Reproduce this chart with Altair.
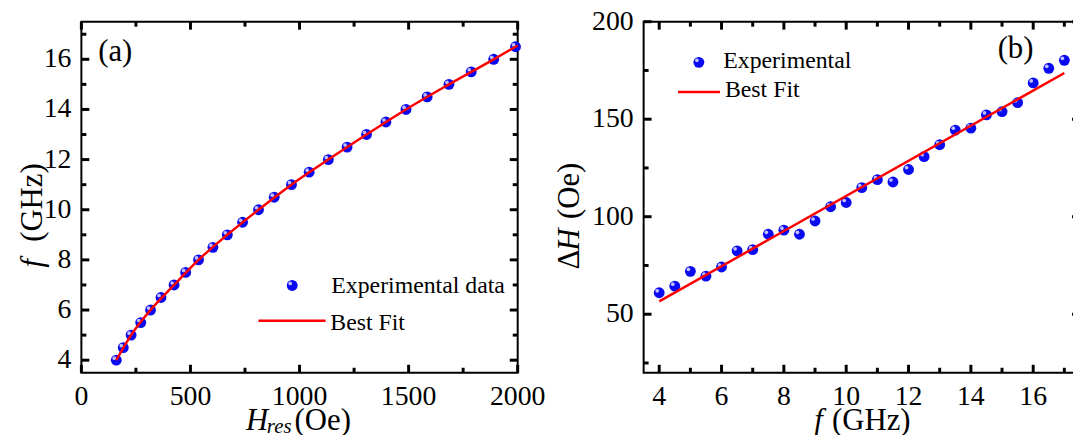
import altair as alt
import pandas as pd

FONT = "Liberation Serif"

# ---------------- Panel (a): f vs H_res ----------------
a_f = [4.0, 4.5, 5.0, 5.5, 6.0, 6.5, 7.0, 7.5, 8.0, 8.5, 9.0, 9.5, 10.0,
       10.5, 11.0, 11.5, 12.0, 12.5, 13.0, 13.5, 14.0, 14.5, 15.0, 15.5, 16.0, 16.5]
a_H = [160, 192, 228, 272, 317, 365, 425, 478, 537, 603, 669, 739, 812,
       884, 963, 1044, 1132, 1218, 1307, 1396, 1488, 1585, 1685, 1787, 1890, 1990]
a_fit_H = [160, 228, 317, 425, 537, 669, 812, 963, 1132, 1307, 1488, 1685, 1890, 2000]
a_fit_f = [4.0, 5.0, 6.0, 7.0, 8.0, 9.0, 10.0, 11.0, 12.0, 13.0, 14.0, 15.0, 16.0, 16.55]
a_x_major = [0, 500, 1000, 1500, 2000]
a_x_minor = [250, 750, 1250, 1750]
a_y_major = [4, 6, 8, 10, 12, 14, 16]
a_y_minor = [5, 7, 9, 11, 13, 15, 17]

# ---------------- Panel (b): dH vs f ----------------
b_f = [4.0, 4.5, 5.0, 5.5, 6.0, 6.5, 7.0, 7.5, 8.0, 8.5, 9.0, 9.5, 10.0, 10.5,
       11.0, 11.5, 12.0, 12.5, 13.0, 13.5, 14.0, 14.5, 15.0, 15.5, 16.0, 16.5, 17.0]
b_dH = [61.0, 64.4, 72.0, 69.5, 74.2, 82.5, 83.1, 91.0, 93.1, 91.0, 97.8, 105.1, 107.3, 114.9,
        119.0, 117.8, 124.2, 130.8, 136.9, 144.4, 145.4, 152.2, 153.9, 158.5, 168.6, 176.1, 180.2]
b_fit_f = [4.0, 17.0]
b_fit_dH = [56.6, 173.7]
b_x_major = [4, 6, 8, 10, 12, 14, 16]
b_x_minor = [5, 7, 9, 11, 13, 15, 17]
b_y_major = [50, 100, 150, 200]
b_y_minor = [25, 75, 125, 175]

W, H = 440, 354
BLUE = "#0a0af2"
HILITE = "#d4d4ff"
RED = "#ff0000"
TICK_FS = 28
LEG_FS = 24
TITLE_FS = 31
MAJ, MIN = 8, 5


def text(s, x, y, size, style="normal", angle=0, align="left", baseline="alphabetic"):
    return alt.Chart(pd.DataFrame({"t": [s]})).mark_text(
        font=FONT, fontSize=size, fontStyle=style, angle=angle, align=align,
        baseline=baseline, color="black").encode(
        text="t:N", x=alt.value(x), y=alt.value(y))


def legend(px, py, tx, ty, lx1, lx2, ly, bx, by, label1):
    one = pd.DataFrame({"k": [0]})
    dot = alt.Chart(one).mark_circle(size=120, color=BLUE, opacity=1).encode(
        x=alt.value(px), y=alt.value(py))
    hl = alt.Chart(one).mark_circle(size=14, color=HILITE, opacity=0.9, xOffset=-2,
                                    yOffset=-2).encode(x=alt.value(px), y=alt.value(py))
    rule = alt.Chart(one).mark_rule(color=RED, strokeWidth=2.5).encode(
        x=alt.value(lx1), x2=alt.value(lx2), y=alt.value(ly))
    return [dot, hl, text(label1, tx, ty, LEG_FS), rule, text("Best Fit", bx, by, LEG_FS)]


def ticks_and_labels(xs, ys, xmaj, xmin, ymaj, ymin):
    """Inward ticks drawn as short rules through the scales, plus tick labels."""
    layers = []
    for vals, ln in ((xmaj, MAJ), (xmin, MIN)):
        df = pd.DataFrame({"v": vals})
        for y0, y1 in ((H, H - ln), (0, ln)):
            layers.append(alt.Chart(df).mark_rule(color="black", strokeWidth=3).encode(
                x=alt.X("v:Q", scale=xs, axis=None),
                x2=alt.X2("v"),
                y=alt.value(y0), y2=alt.value(y1)))
    for vals, ln in ((ymaj, MAJ), (ymin, MIN)):
        df = pd.DataFrame({"v": vals})
        for x0, x1 in ((0, ln), (W, W - ln)):
            layers.append(alt.Chart(df).mark_rule(color="black", strokeWidth=3).encode(
                y=alt.Y("v:Q", scale=ys, axis=None),
                y2=alt.Y2("v"),
                x=alt.value(x0), x2=alt.value(x1)))
    layers.append(alt.Chart(pd.DataFrame({"v": xmaj})).mark_text(
        font=FONT, fontSize=TICK_FS, align="center", baseline="alphabetic", color="black").encode(
        x=alt.X("v:Q", scale=xs, axis=None), y=alt.value(H + 33),
        text=alt.Text("v:Q", format="d")))
    layers.append(alt.Chart(pd.DataFrame({"v": ymaj})).mark_text(
        font=FONT, fontSize=TICK_FS, align="right", baseline="middle", color="black").encode(
        y=alt.Y("v:Q", scale=ys, axis=None), x=alt.value(-10),
        text=alt.Text("v:Q", format="d")))
    return layers


def panel(px, py, fx, fy, xdom, ydom, xmaj, xmin, ymaj, ymin, extras):
    xs = alt.Scale(domain=xdom, nice=False, zero=False)
    ys = alt.Scale(domain=ydom, nice=False, zero=False)
    pts_df = pd.DataFrame({"x": px, "y": py})
    fit_df = pd.DataFrame({"x": fx, "y": fy})
    pts = alt.Chart(pts_df).mark_circle(size=120, color=BLUE, opacity=1).encode(
        x=alt.X("x:Q", scale=xs, axis=None), y=alt.Y("y:Q", scale=ys, axis=None))
    hl = alt.Chart(pts_df).mark_circle(size=14, color=HILITE, opacity=0.9, xOffset=-2,
                                       yOffset=-2).encode(
        x=alt.X("x:Q", scale=xs, axis=None), y=alt.Y("y:Q", scale=ys, axis=None))
    line = alt.Chart(fit_df).mark_line(color=RED, strokeWidth=2.5, interpolate="monotone").encode(
        x=alt.X("x:Q", scale=xs, axis=None), y=alt.Y("y:Q", scale=ys, axis=None))
    return alt.layer(pts, hl, line, *ticks_and_labels(xs, ys, xmaj, xmin, ymaj, ymin),
                     *extras).properties(width=W, height=H)


extras_a = [
    text("(a)", 17, 40, TITLE_FS),
    text("H", 166, 412, TITLE_FS, style="italic"),
    text("res", 187, 415, 21, style="italic"),
    text("(Oe)", 215, 412, TITLE_FS),
    text("f", -40, 248, TITLE_FS, style="italic", angle=270),
    text("(GHz)", -40, 222, TITLE_FS, angle=270),
] + legend(212.6, 266, 252, 274, 178.6, 246.3, 301.7, 251, 311, "Experimental data")

extras_b = [
    text("(b)", 357, 37, TITLE_FS),
    text("f", 172, 412, TITLE_FS, style="italic"),
    text("(GHz)", 190, 412, TITLE_FS),
    text("Δ", -65, 250, TITLE_FS, angle=270),
    text("H", -65, 231, TITLE_FS, style="italic", angle=270),
    text("(Oe)", -65, 199, TITLE_FS, angle=270),
] + legend(55.7, 41, 80.3, 47, 34.7, 77, 71, 82, 76, "Experimental")

pa = panel(a_H, a_f, a_fit_H, a_fit_f, [0, 2000], [3.5, 17.5],
           a_x_major, a_x_minor, a_y_major, a_y_minor, extras_a)
pb = panel(b_f, b_dH, b_fit_f, b_fit_dH, [3.5, 17.5], [20, 200],
           b_x_major, b_x_minor, b_y_major, b_y_minor, extras_b)

# negative right/bottom padding: the SVG itself clips the overflow, like the
# cropped reference figure, so the page never gets wider/taller than the window
chart = alt.hconcat(pa, pb, spacing=127, bounds="flush").properties(
    padding={"left": 8, "top": -3, "right": -10, "bottom": -5}
).configure_view(stroke="black", strokeWidth=2)

chart.save("out.html", embed_options={"renderer": "svg", "actions": False})
